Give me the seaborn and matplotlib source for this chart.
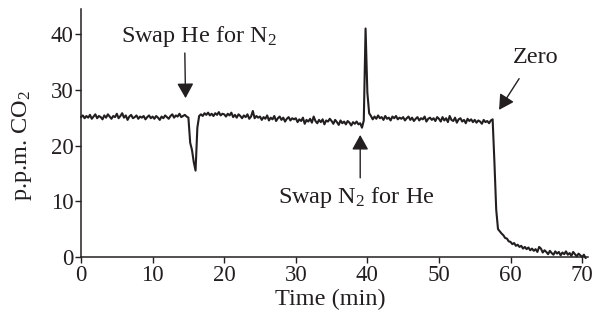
import numpy as np
import pandas as pd
import matplotlib
matplotlib.use("Agg")
import matplotlib.pyplot as plt
import seaborn as sns

# CO2 trace, one reading every 0.25 min (rows = 5 min)
sample_step_min = 0.25
ppm_co2 = [
    25.1, 25.4, 24.9, 25.3, 25.0, 25.5, 24.8, 25.2, 25.6, 24.9, 25.3, 25.1, 24.7, 25.4, 25.0, 25.6, 25.2, 24.8, 25.3, 25.1,
    25.7, 24.9, 25.3, 25.8, 25.0, 25.4, 24.6, 25.2, 25.5, 24.9, 25.1, 25.4, 24.8, 25.2, 25.0, 25.3, 24.7, 25.1, 25.4, 24.9,
    25.2, 24.8, 25.3, 25.0, 24.6, 25.2, 24.9, 25.4, 25.1, 24.8, 25.3, 25.6, 25.0, 25.4, 25.2, 25.7, 25.1, 25.3, 25.5, 25.2,
    25.0, 20.5, 19.2, 17.0, 15.5, 23.2, 25.3, 25.6, 25.3, 25.8, 25.5, 25.9, 25.4, 25.7, 25.3, 25.8, 25.5, 26.0, 25.4, 25.7,
    25.6, 25.2, 25.7, 25.4, 25.9, 25.1, 25.5, 25.0, 25.6, 25.3, 24.9, 25.4, 25.1, 25.6, 24.8, 25.2, 26.2, 24.9, 25.3, 25.0,
    25.2, 24.6, 25.1, 24.8, 25.4, 24.5, 25.0, 24.7, 25.3, 24.4, 24.9, 25.2, 24.6, 25.0, 24.3, 24.8, 25.1, 24.5, 24.9, 24.7,
    24.9, 24.2, 24.7, 24.4, 25.0, 23.9, 24.6, 24.3, 24.8, 24.1, 25.2, 24.4, 24.0, 24.6, 24.2, 24.7, 23.8, 24.5, 24.3, 24.8,
    24.4, 23.9, 24.6, 24.2, 23.7, 24.5, 24.0, 24.3, 23.8, 24.4, 24.1, 23.6, 24.2, 23.9, 24.3, 23.8, 24.0, 23.2, 24.5, 41.0,
    29.5, 25.8, 25.3, 24.7, 25.2, 24.8, 25.4, 24.9, 25.1, 24.6, 25.3, 24.8, 25.0, 24.5, 25.2, 24.9, 25.3, 24.7, 25.0, 24.8,
    25.1, 24.5, 24.9, 25.2, 24.6, 25.0, 24.4, 24.8, 25.1, 24.5, 24.9, 24.7, 25.2, 24.3, 24.8, 25.0, 24.6, 24.9, 24.4, 25.1,
    24.8, 24.3, 25.1, 24.5, 24.9, 24.2, 25.3, 24.6, 24.4, 25.0, 24.1, 24.7, 24.9, 24.3, 24.6, 24.0, 24.8, 24.4, 24.7, 24.2,
    24.6, 24.1, 24.5, 24.3, 23.9, 24.6, 24.2, 24.4, 24.0, 24.5, 24.7, 17.0, 8.5, 5.0, 4.6, 4.2, 3.9, 3.4, 3.3, 2.8,
    2.7, 2.3, 2.5, 2.0, 2.2, 1.8, 2.0, 1.5, 1.8, 1.4, 1.7, 1.2, 1.5, 1.1, 1.4, 0.9, 1.8, 1.5, 0.8, 1.2,
    0.9, 0.5, 1.1, 0.7, 0.4, 1.0, 0.6, 0.9, 0.3, 0.8, 0.5, 1.0, 0.4, 0.7, 0.2, 0.9, 0.5, 0.1, 0.6, 0.3,
    0.0, 0.4, -0.2,
]
time_min = np.arange(len(ppm_co2)) * sample_step_min

x_ticks = [0, 10, 20, 30, 40, 50, 60, 70]
y_ticks = [0, 10, 20, 30, 40]

df = pd.DataFrame({"time": time_min, "ppm": ppm_co2})

sns.set_style("ticks")
plt.rcParams["font.family"] = ["Liberation Serif", "DejaVu Serif"]
plt.rcParams["mathtext.fontset"] = "custom"
plt.rcParams["mathtext.rm"] = "Liberation Serif"
plt.rcParams["mathtext.it"] = "Liberation Serif:italic"

ink = "#231f20"
fig = plt.figure(figsize=(5.98, 3.22), dpi=100)
ax = fig.add_axes([0.1355, 0.202, 0.8475, 0.770])

sns.lineplot(data=df, x="time", y="ppm", ax=ax, estimator=None,
             color=ink, linewidth=1.5, clip_on=False)

ax.set_xlim(0, 70.8)
ax.set_ylim(0, 44.5)
ax.set_xticks(x_ticks)
ax.set_yticks(y_ticks)
ax.tick_params(axis="both", direction="out", length=4, width=1.0,
               colors=ink, labelsize=16.5, pad=1.5)
for side in ["top", "right"]:
    ax.spines[side].set_visible(False)
for side in ["left", "bottom"]:
    ax.spines[side].set_linewidth(1.1)
    ax.spines[side].set_color(ink)

ax.set_xlabel("Time (min)", fontsize=17.5, color=ink)
ax.set_ylabel(r"p.p.m. CO$_\mathrm{2}$", fontsize=17.5, color=ink)
ax.xaxis.set_label_coords(0.491, -0.13)
ax.yaxis.set_label_coords(-0.093, 0.45)

arrow = dict(arrowstyle="-|>,head_length=0.45,head_width=0.25",
             mutation_scale=20, color=ink, lw=1.0, shrinkA=0, shrinkB=0)

ax.annotate("", xy=(14.6, 28.5), xytext=(14.5, 36.6), arrowprops=arrow)
ax.text(16.5, 39.5, r"Swap He for N$_\mathrm{2}$", ha="center", va="center",
        fontsize=17.5, color=ink)

ax.annotate("", xy=(39.0, 21.9), xytext=(39.0, 14.2), arrowprops=arrow)
ax.text(38.5, 10.6, r"Swap N$_\mathrm{2}$ for He", ha="center", va="center",
        fontsize=17.5, color=ink)

ax.annotate("", xy=(58.4, 26.4), xytext=(61.2, 32.0), arrowprops=arrow)
ax.text(63.5, 35.8, "Zero", ha="center", va="center", fontsize=17.5, color=ink)

fig.savefig("out.png", dpi=100)
